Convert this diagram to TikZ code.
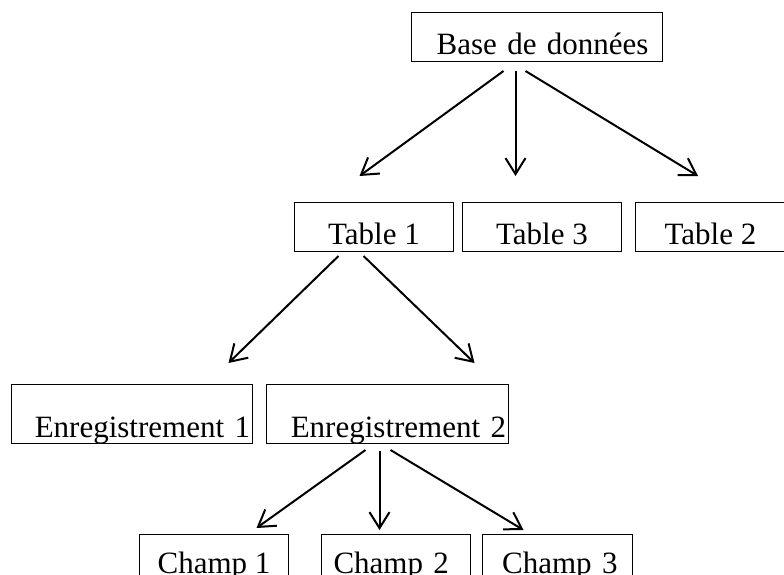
\documentclass[tikz,border=0pt]{standalone}
\usepackage{fontspec}
\setmainfont{Liberation Serif}
\usetikzlibrary{arrows.meta}

\begin{document}
\begin{tikzpicture}[x=1pt, y=-1pt,
    box/.style={rectangle, draw, line width=1pt, inner sep=0pt, anchor=north west,
        font=\fontsize{31}{36}\selectfont, text height=42pt, text depth=7pt, minimum height=49pt},
    tallbox/.style={box, text height=53pt, text depth=6pt, minimum height=59pt},
    arrow/.style={-{Straight Barb[length=16pt, width=20pt, line width=2pt]}, line width=2pt}
]
\useasboundingbox (0,0) rectangle (784,574);

% Database
\node[box, minimum width=251pt, text width=223pt, inner xsep=14pt, align=right] (base) at (411,12) {Base de donn\'ees};

% Tables
\node[box, minimum width=159pt] (table1) at (294,202) {Table 1};
\node[box, minimum width=159pt] (table3) at (462,202) {Table 3};
\node[box, minimum width=150pt] (table2) at (635,202) {Table 2};

% Records
\node[tallbox, minimum width=241pt, text width=236pt, inner xsep=2.5pt, align=right] (enreg1) at (11,384) {Enregistrement 1};
\node[tallbox, minimum width=242pt, text width=237pt, inner xsep=2.5pt, align=right] (enreg2) at (266,384) {Enregistrement 2};

% Fields
\node[box, minimum width=149pt, text depth=10pt, text height=39pt] (champ1) at (139,534) {Champ 1};
\node[box, minimum width=149pt, text depth=10pt, text height=39pt, text width=125pt, inner xsep=12pt, align=left] (champ2) at (321,534) {Champ 2};
\node[box, minimum width=150pt, text depth=10pt, text height=39pt, text width=120pt, inner xsep=15pt, align=right] (champ3) at (482,534) {Champ 3};

% Arrows
\draw[arrow] ([xshift=-33.5pt, yshift=-9pt]base.south) -- ([xshift=-14.5pt, yshift=26pt]table1.north);
\draw[arrow] ([xshift=-21.5pt, yshift=-9pt]base.south) -- ([xshift=-26.5pt, yshift=26pt]table3.north);
\draw[arrow] ([xshift=-11.5pt, yshift=-9pt]base.south) -- ([xshift=-12.5pt, yshift=26pt]table2.north);
\draw[arrow] ([xshift=-35.5pt, yshift=-4pt]table1.south) -- ([xshift=96.5pt, yshift=21pt]enreg1.north);
\draw[arrow] ([xshift=-10.5pt, yshift=-4pt]table1.south) -- ([xshift=87pt, yshift=21pt]enreg2.north);
\draw[arrow] ([xshift=-22pt, yshift=-6pt]enreg2.south) -- ([xshift=42.5pt, yshift=6pt]champ1.north);
\draw[arrow] ([xshift=-8pt, yshift=-7pt]enreg2.south) -- ([xshift=-16.5pt, yshift=4pt]champ2.north);
\draw[arrow] ([xshift=3pt, yshift=-6pt]enreg2.south) -- ([xshift=-34pt, yshift=4pt]champ3.north);

\end{tikzpicture}
\end{document}
